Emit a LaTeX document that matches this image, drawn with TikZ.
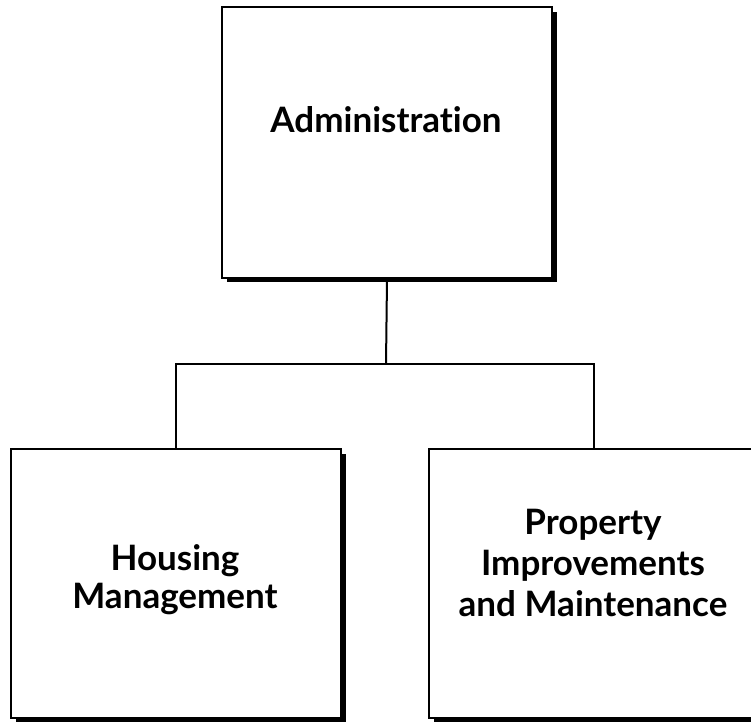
\documentclass[tikz,border=0pt]{standalone}
\usepackage{fontspec}
\setmainfont{Lato}[Ligatures={NoCommon,NoDiscretionary}]
\begin{document}
\begin{tikzpicture}[x=1pt,y=-1pt,
  orgbox/.style={draw=black,fill=white,line width=2pt,minimum width=330pt,minimum height=270pt,inner sep=0pt,anchor=north west},
  shadowbox/.style={fill=black,minimum width=330pt,minimum height=270pt,inner sep=0pt,anchor=north west},
  lbl/.style={font=\bfseries\fontsize{35}{38}\selectfont,align=center,text=black},
  conn/.style={line width=2pt}]
\useasboundingbox (0,0) rectangle (751,721);
% shadows
\node[shadowbox] (adminsh) at (227,12) {};
\node[shadowbox] (housesh) at (16,454) {};
\node[shadowbox] (propsh) at (434,454) {};
% boxes
\node[orgbox,minimum height=271pt] (admin) at (221,6) {};
\node[orgbox,minimum height=269pt] (house) at (10,448) {};
\node[orgbox,minimum height=269pt] (prop) at (428,448) {};
% labels
\node[lbl] (admintxt) at (386,120) {Administration};
\node[lbl] (housetxt) at (175,580) {Housing\\Management};
\node[lbl] (proptxt) at (593,563) {Property\\[3pt]Improvements\\[3pt]and Maintenance};
% connectors
\coordinate (bus) at (386,364);
\draw[conn] (admin.south) -- (bus);
\draw[conn] (house.north) |- (bus) -| (prop.north);
\end{tikzpicture}
\end{document}
